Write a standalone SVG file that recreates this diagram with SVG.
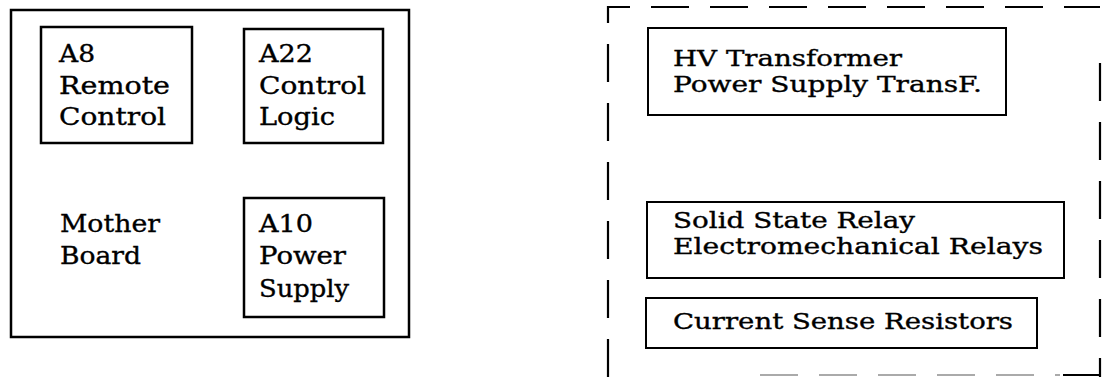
<svg xmlns="http://www.w3.org/2000/svg" width="1102" height="377" viewBox="0 0 1102 377">
  <style>
    .box { fill: none; stroke: #000; stroke-width: 2.5; }
    .rbox { fill: none; stroke: #000; stroke-width: 2; }
    .dash { fill: none; stroke: #000; stroke-width: 2.2; stroke-dasharray: 38 21; }
    .faint { fill: none; stroke: #aaa; stroke-width: 2; stroke-dasharray: 38 21; }
    text { font-family: "DejaVu Serif", "Liberation Serif", serif; font-size: 24px; fill: #000; stroke: #000; stroke-width: 0.35; }
    .r { font-size: 22px; }
  </style>
  <rect width="1102" height="377" fill="#fff"/>

  <g id="mother-board">
    <rect class="box" x="11" y="10" width="398" height="327"/>
    <text x="60" y="232" textLength="100" lengthAdjust="spacingAndGlyphs">Mother</text>
    <text x="60" y="264" textLength="81" lengthAdjust="spacingAndGlyphs">Board</text>
  </g>

  <g id="a8-remote-control">
    <rect class="box" x="41" y="27" width="151" height="116"/>
    <text x="59" y="62" textLength="36" lengthAdjust="spacingAndGlyphs">A8</text>
    <text x="59" y="94" textLength="111" lengthAdjust="spacingAndGlyphs">Remote</text>
    <text x="59" y="125" textLength="107" lengthAdjust="spacingAndGlyphs">Control</text>
  </g>

  <g id="a22-control-logic">
    <rect class="box" x="244" y="29" width="139" height="114"/>
    <text x="259" y="62" textLength="54" lengthAdjust="spacingAndGlyphs">A22</text>
    <text x="259" y="94" textLength="107" lengthAdjust="spacingAndGlyphs">Control</text>
    <text x="259" y="125" textLength="76" lengthAdjust="spacingAndGlyphs">Logic</text>
  </g>

  <g id="a10-power-supply">
    <rect class="box" x="244" y="198" width="140" height="119"/>
    <text x="259" y="232" textLength="54" lengthAdjust="spacingAndGlyphs">A10</text>
    <text x="259" y="264" textLength="87" lengthAdjust="spacingAndGlyphs">Power</text>
    <text x="259" y="297" textLength="90" lengthAdjust="spacingAndGlyphs">Supply</text>
  </g>

  <g id="external-chassis">
    <path class="dash" d="M608 377 V7 H1100"/>
    <path class="dash" d="M1100 63 V377"/>
    <path class="faint" d="M760 375 H1060"/>
    <path fill="none" stroke="#000" stroke-width="2.2" d="M1063 375 H1100"/>
  </g>

  <g id="hv-transformer">
    <rect class="rbox" x="648" y="28" width="358" height="87"/>
    <text class="r" x="673" y="66" textLength="229" lengthAdjust="spacingAndGlyphs">HV Transformer</text>
    <text class="r" x="673" y="92" textLength="309" lengthAdjust="spacingAndGlyphs">Power Supply TransF.</text>
  </g>

  <g id="relays">
    <rect class="rbox" x="647" y="202" width="417" height="76"/>
    <text class="r" x="673" y="228" textLength="242" lengthAdjust="spacingAndGlyphs">Solid State Relay</text>
    <text class="r" x="673" y="254" textLength="370" lengthAdjust="spacingAndGlyphs">Electromechanical Relays</text>
  </g>

  <g id="current-sense-resistors">
    <rect class="rbox" x="646" y="298" width="391" height="50"/>
    <text class="r" x="673" y="329" textLength="340" lengthAdjust="spacingAndGlyphs">Current Sense Resistors</text>
  </g>

  <g id="connectors"/>
</svg>
